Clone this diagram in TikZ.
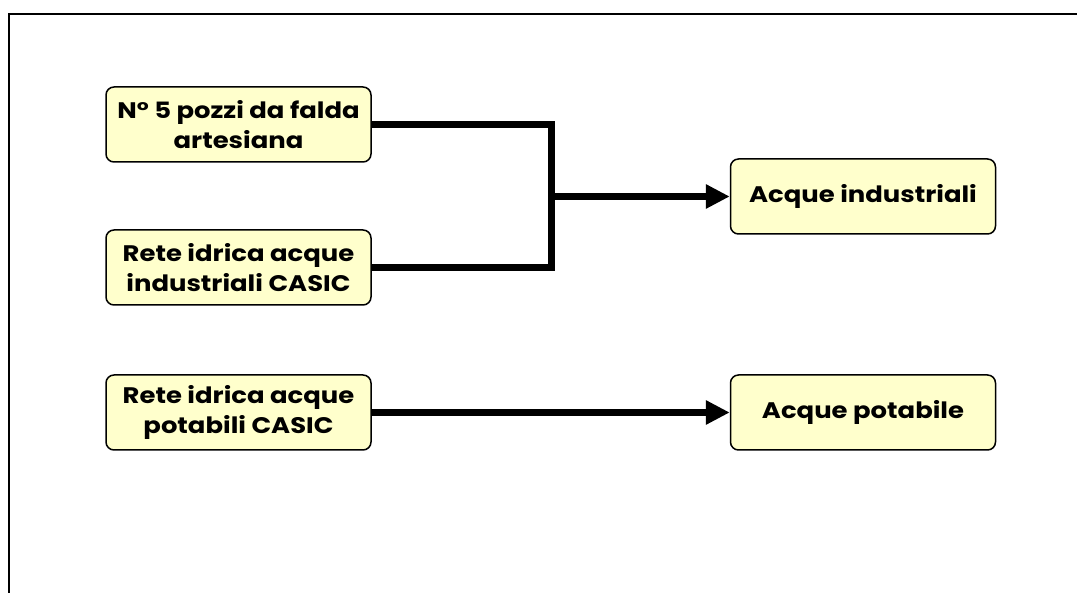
\documentclass[tikz,border=0pt]{standalone}
\usepackage{fontspec}
\setmainfont{Poppins}[FakeStretch=1.15]
\usetikzlibrary{arrows.meta}
\definecolor{boxfill}{HTML}{FFFFCC}
\tikzset{
  box/.style={draw=black, line width=1.5pt, fill=boxfill, rounded corners=8pt,
    minimum width=265pt, minimum height=75pt, align=center, inner sep=0pt,
    font=\bfseries\fontsize{22.5}{30}\selectfont},
  conn/.style={line width=7pt},
  arr/.style={conn, -{Triangle[length=24pt,width=23pt]}},
  frame/.style={line width=2.5pt}
}
\begin{document}
\begin{tikzpicture}[x=1pt,y=-1pt]
\useasboundingbox (0,0) rectangle (1077,593);
\draw[frame] (9,593) -- (9,14) -- (1077,14);
\node[box] (n1) at (238.5,124.5) {N° 5 pozzi da falda\\artesiana};
\node[box] (n2) at (238.5,267.5) {Rete idrica acque\\industriali CASIC};
\node[box] (n3) at (238.5,412.5) {Rete idrica acque\\potabili CASIC};
\node[box] (a1) at (863,196.5) {Acque industriali};
\node[box] (a2) at (863,412.5) {Acque potabile};
\coordinate (j) at (551,196.5);
\draw[conn] (n1.east) -| (j);
\draw[conn] (n2.east) -| (j);
\draw[arr] (j) -- (a1.west);
\draw[arr] (n3.east) -- (a2.west);
\end{tikzpicture}
\end{document}
